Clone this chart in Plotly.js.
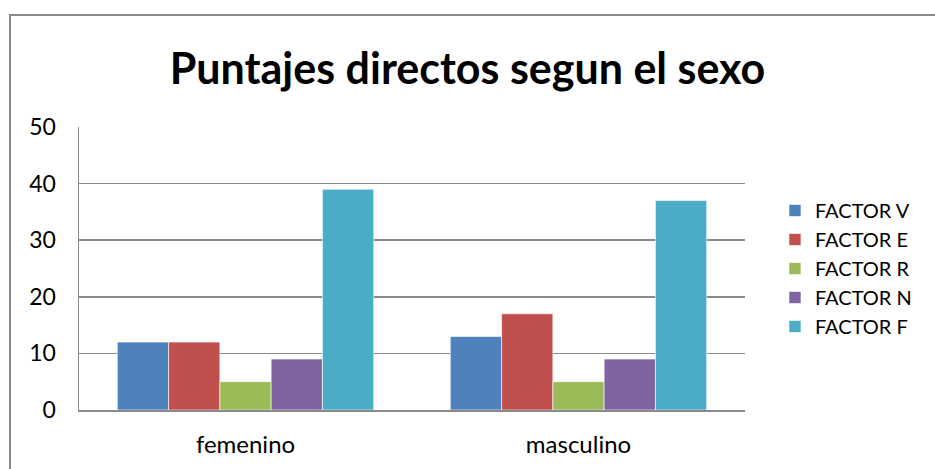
<!DOCTYPE html>
<html>
<head>
<meta charset="utf-8">
<script src="https://cdn.plot.ly/plotly-3.0.1.min.js"></script>
<style>
  html, body { margin: 0; padding: 0; background: #fff; }
  #wrap { position: relative; width: 935px; height: 469px; overflow: hidden; }
  #chart { position: absolute; left: 0; top: 0; width: 935px; height: 469px; }
  #frame { position: absolute; left: 9px; top: 14px; width: 1000px; height: 1000px;
           border-left: 2px solid #8a8a8a; border-top: 2px solid #8a8a8a; pointer-events: none; }
</style>
</head>
<body>
<div id="wrap">
  <div id="chart"></div>
  <div id="frame"></div>
</div>
<script>
const categories = ["femenino", "masculino"];
const seriesNames = ["FACTOR V", "FACTOR E", "FACTOR R", "FACTOR N", "FACTOR F"];
const factorV = [12, 13];
const factorE = [12, 17];
const factorR = [5, 5];
const factorN = [9, 9];
const factorF = [39, 37];
const seriesValues = [factorV, factorE, factorR, factorN, factorF];
const colors = ["#4F81BD", "#C0504D", "#9BBB59", "#8064A2", "#4BACC6"];

const font = "Lato, 'Open Sans', 'Noto Sans', sans-serif";

const traces = seriesNames.map((name, i) => ({
  type: "bar",
  name: name,
  x: categories,
  y: seriesValues[i],
  legendgroup: "g" + i,
  marker: { color: colors[i], line: { color: "rgba(255,255,255,0.6)", width: 1 } },
  hoverinfo: "x+y+name"
}));

const layout = {
  width: 935,
  height: 469,
  margin: { l: 79, r: 190, t: 127, b: 59 },
  paper_bgcolor: "#ffffff",
  plot_bgcolor: "#ffffff",
  barmode: "group",
  bargap: 0.23,
  bargroupgap: 0,
  title: {
    text: "<b>Puntajes directos segun el sexo</b>",
    font: { family: font, size: 43, color: "#000000" },
    x: 0.5,
    xref: "container",
    xanchor: "center",
    y: 0.853,
    yref: "container",
    yanchor: "middle"
  },
  xaxis: {
    type: "category",
    showline: true,
    linecolor: "#8a8a8a",
    linewidth: 1.5,
    showgrid: false,
    ticks: "",
    tickfont: { family: font, size: 24, color: "#000000" },
    ticklabelstandoff: 13,
    mirror: false
  },
  yaxis: {
    range: [0, 50],
    dtick: 10,
    tick0: 0,
    showline: true,
    linecolor: "#8a8a8a",
    linewidth: 1.5,
    showgrid: true,
    gridcolor: "#8a8a8a",
    gridwidth: 1.5,
    zeroline: false,
    ticks: "",
    tickfont: { family: font, size: 23, color: "#000000" },
    ticklabelstandoff: 17
  },
  legend: {
    x: 1.045,
    xanchor: "left",
    y: 0.5,
    yanchor: "middle",
    font: { family: font, size: 20, color: "#000000" },
    tracegroupgap: 5,
    traceorder: "normal",
    bgcolor: "rgba(0,0,0,0)"
  },
  showlegend: true
};

Plotly.newPlot("chart", traces, layout, { staticPlot: true, displayModeBar: false });
</script>
</body>
</html>
